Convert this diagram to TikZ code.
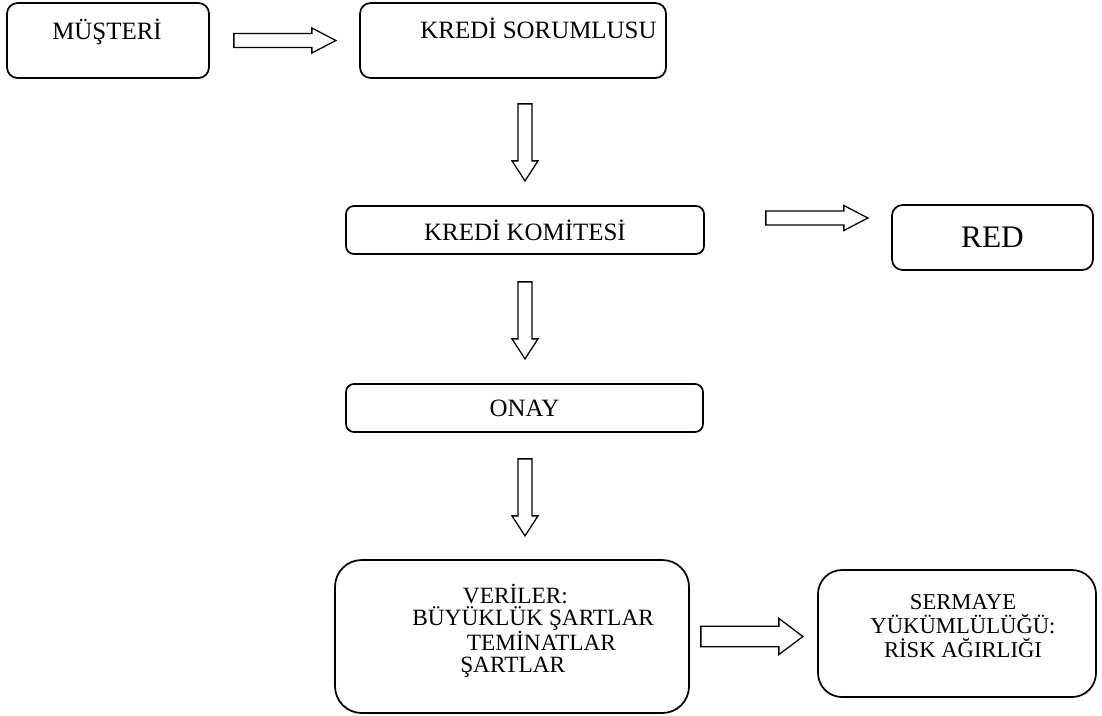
\documentclass[tikz,border=0pt]{standalone}
\usepackage{fontspec}
\setmainfont{Liberation Serif}
\usetikzlibrary{positioning, calc}

\begin{document}
\begin{tikzpicture}[x=0.75pt, y=-0.75pt,
    box/.style={draw, line width=1.3pt, rounded corners=8pt, inner sep=0pt},
    txt/.style={font=\fontsize{18.7}{16}\selectfont, inner sep=0pt},
    rblock/.pic={\draw[line width=0.95pt] (0,-7) -- (78,-7) -- (78,-12.5) -- (102,0) -- (78,12.5) -- (78,7) -- (0,7) -- cycle;},
    dblock/.pic={\draw[line width=0.95pt] (-7,0) -- (-7,57) -- (-13,57) -- (0,77) -- (13,57) -- (7,57) -- (7,0) -- cycle;}]

    \useasboundingbox (0,0) rectangle (1102,715);

    % Boxes
    \node[box, minimum width=151.5pt, minimum height=56.25pt] (mus) at (108,40.5) {};
    \node[box, minimum width=229.5pt, minimum height=56.25pt] (sor) at (513,40.5) {};
    \node[box, rounded corners=6pt, minimum width=268.5pt, minimum height=36pt, txt] (kom) at (525,230) {KREDİ KOMİTESİ};
    \node[box, minimum width=150.75pt, minimum height=48.75pt, font=\fontsize{23.5}{24}\selectfont] (red) at (992.5,237.5) {RED};
    \node[box, rounded corners=6pt, minimum width=267.75pt, minimum height=36pt, txt] (onay) at (524.5,408) {ONAY};
    \node[box, rounded corners=20pt, minimum width=265.5pt, minimum height=114.75pt] (ver) at (512,636.5) {};
    \node[box, rounded corners=18pt, minimum width=208.5pt, minimum height=95.25pt] (ser) at (957,633.5) {};

    % Texts
    \node[txt, anchor=base] (mus-t) at (107,39) {MÜŞTERİ};
    \node[txt, anchor=base] (sor-t) at (538.5,38) {KREDİ SORUMLUSU};
    \node[txt, font=\fontsize{17.5}{16}\selectfont, align=left, anchor=base west] (ver-t) at (412,672)
        {\hspace*{38pt}VERİLER:\\BÜYÜKLÜK ŞARTLAR\\\hspace*{41pt}TEMİNATLAR\\\hspace*{36pt}ŞARTLAR};
    \node[txt, font=\fontsize{17}{18}\selectfont, align=center, anchor=base] (ser-t) at (963,657)
        {SERMAYE\\YÜKÜMLÜLÜĞÜ:\\RİSK AĞIRLIĞI};

    % Block arrows
    \pic (a1) at ($(mus.east)+(24,0)$) {rblock};
    \pic (d1) at ($(sor.south)+(12,25)$) {dblock};
    \pic (a2) at ($(kom.east)+(61,-12)$) {rblock};
    \pic (d2) at ($(kom.south)+(0,27)$) {dblock};
    \pic (d3) at ($(onay.south)+(0.5,26)$) {dblock};
    \pic[yscale=1.45] (a3) at ($(ver.east)+(11,0)$) {rblock};
\end{tikzpicture}
\end{document}
